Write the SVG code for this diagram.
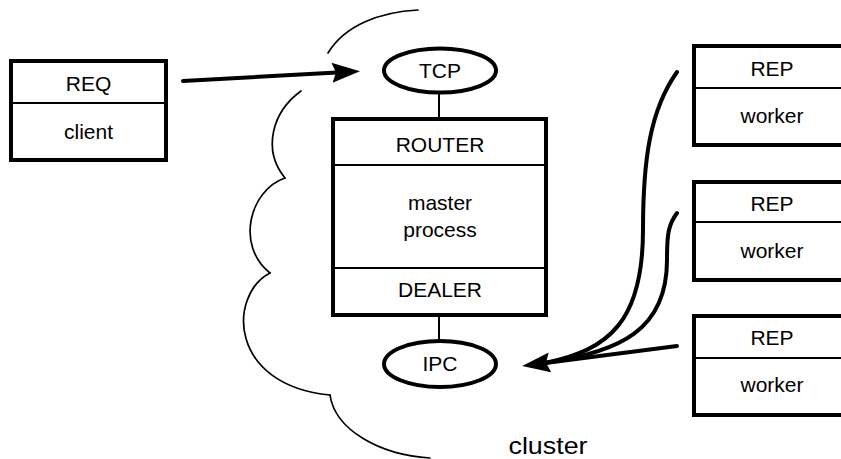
<svg xmlns="http://www.w3.org/2000/svg" width="841" height="459" viewBox="0 0 841 459">
<style>
  .box{fill:#fff;stroke:#000;stroke-width:4}
  .div{stroke:#000;stroke-width:1.8;fill:none}
  .ell{fill:#fff;stroke:#000;stroke-width:4}
  .t{font-family:"Liberation Sans",Arial,sans-serif;font-size:21px;text-anchor:middle;fill:#000}
  .big{font-size:24px}
  .cloud{fill:none;stroke:#000;stroke-width:1.7;stroke-linecap:round}
  .conn{fill:none;stroke:#000;stroke-width:4;stroke-linecap:round}
  .stem{stroke:#000;stroke-width:2}
</style>
<defs>
  <marker id="ah" markerUnits="userSpaceOnUse" viewBox="0 0 28 20" markerWidth="28" markerHeight="20" refX="5" refY="10" orient="auto">
    <path d="M0,0 L28,10 L0,20 L4,10 z" fill="#000"/>
  </marker>
</defs>
<rect width="841" height="459" fill="#fff"/>
<g id="cluster">
  <path class="cloud" d="M328,53 C345,25 380,12 418,10"/>
  <path class="cloud" d="M301,91 C272,112 262,150 285,178"/>
  <path class="cloud" d="M285,178 C250,190 235,245 270,273"/>
  <path class="cloud" d="M270,273 C228,295 228,385 330,395"/>
  <path class="cloud" d="M330,395 C335,430 380,455 430,458"/>
  <text class="t big" x="548" y="454" textLength="79" lengthAdjust="spacingAndGlyphs">cluster</text>
</g>
<g id="connectors">
  <line class="stem" x1="439" y1="92" x2="439" y2="119"/>
  <line class="stem" x1="439" y1="315" x2="439" y2="341"/>
  <line class="conn" x1="183" y1="81" x2="337" y2="72.5" stroke-linecap="butt" marker-end="url(#ah)"/>
  <path class="conn" d="M677,72 C650,110 643,160 643,230 C643,320 610,350 545,363"/>
  <path class="conn" d="M677,213 C668,225 667,235 667,260 C667,330 620,352 545,363"/>
  <line class="conn" x1="677" y1="346" x2="545" y2="363" marker-end="url(#ah)"/>
</g>
<g id="client">
  <rect class="box" x="11" y="61" width="155" height="99"/>
  <line class="div" x1="11" y1="103" x2="166" y2="103"/>
  <text class="t" x="88.5" y="91">REQ</text>
  <text class="t" x="88.5" y="139">client</text>
</g>
<g id="tcp">
  <ellipse class="ell" cx="440" cy="70.5" rx="56" ry="22"/>
  <text class="t" x="440" y="78">TCP</text>
</g>
<g id="master">
  <rect class="box" x="333" y="119" width="213" height="196"/>
  <line class="div" x1="333" y1="165" x2="546" y2="165"/>
  <line class="div" x1="333" y1="268" x2="546" y2="268"/>
  <text class="t" x="440" y="152">ROUTER</text>
  <text class="t" x="440" y="210">master</text>
  <text class="t" x="440" y="237">process</text>
  <text class="t" x="440" y="297">DEALER</text>
</g>
<g id="ipc">
  <ellipse class="ell" cx="440" cy="364" rx="56" ry="23"/>
  <text class="t" x="440" y="371">IPC</text>
</g>
<g id="worker1">
  <rect class="box" x="694" y="46" width="157" height="99"/>
  <line class="div" x1="694" y1="88" x2="851" y2="88"/>
  <text class="t" x="772" y="76">REP</text>
  <text class="t" x="772" y="123">worker</text>
</g>
<g id="worker2">
  <rect class="box" x="694" y="182" width="157" height="98"/>
  <line class="div" x1="694" y1="222" x2="851" y2="222"/>
  <text class="t" x="772" y="211">REP</text>
  <text class="t" x="772" y="258">worker</text>
</g>
<g id="worker3">
  <rect class="box" x="694" y="316" width="157" height="99"/>
  <line class="div" x1="694" y1="358" x2="851" y2="358"/>
  <text class="t" x="772" y="345">REP</text>
  <text class="t" x="772" y="392">worker</text>
</g>
</svg>
